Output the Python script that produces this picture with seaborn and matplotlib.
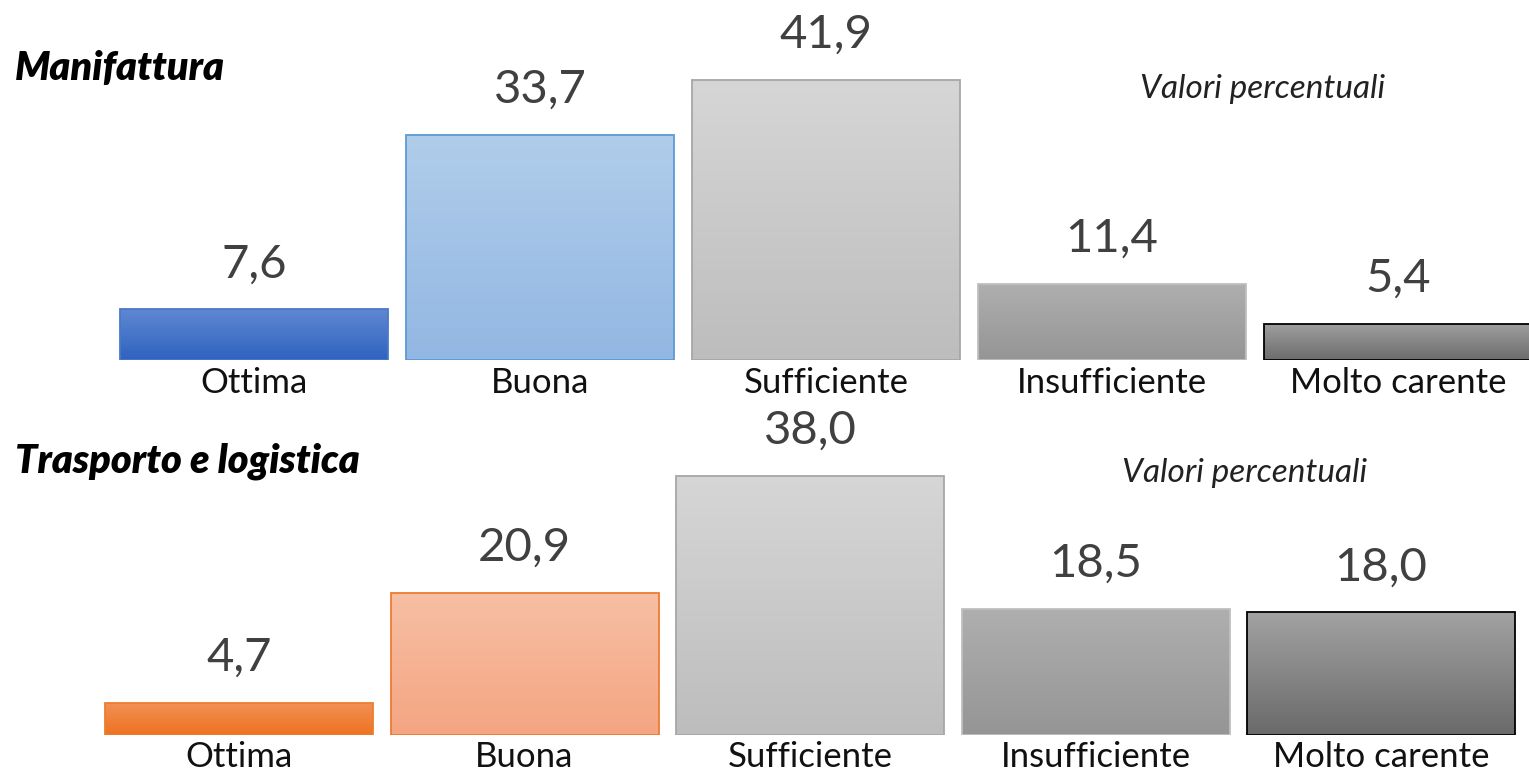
import numpy as np
import matplotlib
matplotlib.use("Agg")
import matplotlib.pyplot as plt
import matplotlib.colors as mcolors
import seaborn as sns
import pandas as pd

categories = ["Ottima", "Buona", "Sufficiente", "Insufficiente", "Molto carente"]
manifattura = [7.6, 33.7, 41.9, 11.4, 5.4]
trasporto = [4.7, 20.9, 38.0, 18.5, 18.0]
titles = ["Manifattura", "Trasporto e logistica"]
note = "Valori percentuali"

# (top colour, bottom colour, edge colour)
top_styles = [("#5f88d2", "#2f62c0", "#4a78c8"),
              ("#b0cdea", "#93b7e3", "#5b9bd5"),
              ("#d6d6d6", "#bdbdbd", "#a6a6a6"),
              ("#afafaf", "#959595", "#bfbfbf"),
              ("#a0a0a0", "#6c6c6c", "#000000")]
bot_styles = [("#f29156", "#ee7220", "#ed7d31"),
              ("#f7bfa4", "#f4a582", "#ed7d31"),
              ("#d6d6d6", "#bdbdbd", "#a6a6a6"),
              ("#afafaf", "#959595", "#bfbfbf"),
              ("#a2a2a2", "#6a6a6a", "#000000")]

sns.set_theme(style="white")
plt.rcParams["font.family"] = ["Lato", "DejaVu Sans"]

W, H = 1529, 773
fig = plt.figure(figsize=(W / 100, H / 100), dpi=100)


def panel(values, styles, base_px, top_px, center0, step, pxunit, title, title_y,
          note_x, note_y, label_pad):
    ax = fig.add_axes([0, (H - base_px) / H, 1, (base_px - top_px) / H])
    df = pd.DataFrame({"cat": categories, "val": values})
    sns.barplot(data=df, x="cat", y="val", ax=ax, width=268 / step,
                color="#cccccc", linewidth=1.3)
    xl = (-center0 / step, (W - center0) / step)
    yl = (0, (base_px - top_px) / pxunit)
    for p, (ct, cb, ce) in zip(ax.patches, styles):
        p.set_edgecolor(ce)
        p.set_facecolor("none")
        p.set_zorder(3)
        x0, y0 = p.get_x(), p.get_y()
        w, h = p.get_width(), p.get_height()
        cmap = mcolors.LinearSegmentedColormap.from_list("g", [cb, ct])
        grad = np.linspace(0, 1, 256).reshape(-1, 1)
        im = ax.imshow(grad, extent=[x0, x0 + w, y0, y0 + h], origin="lower",
                       cmap=cmap, aspect="auto", zorder=2, interpolation="bilinear")
        im.set_clip_path(p)
    for i, v in enumerate(values):
        ax.annotate(f"{v:.1f}".replace(".", ","), (i, v), xytext=(0, 23),
                    textcoords="offset points", ha="center", va="baseline",
                    fontsize=34, color="#404040", fontweight="normal", clip_on=False)
    ax.set_xlim(*xl)
    ax.set_ylim(*yl)
    ax.set_xlabel("")
    ax.set_ylabel("")
    ax.set_yticks([])
    ax.tick_params(axis="x", length=0, pad=label_pad, labelsize=25, labelcolor="#111111")
    for s in ax.spines.values():
        s.set_visible(False)
    ax.set_facecolor("none")
    fig.text(15 / W, 1 - title_y / H, title, fontsize=28.5, fontweight="heavy",
             fontstyle="italic", color="black", va="baseline", ha="left")
    fig.text(note_x / W, 1 - note_y / H, note, fontsize=24, fontstyle="italic",
             color="#222222", va="baseline", ha="left")
    return ax


panel(manifattura, top_styles, base_px=360, top_px=0, center0=254, step=286,
      pxunit=280 / 41.9, title=titles[0], title_y=80, note_x=1140, note_y=98,
      label_pad=5)
panel(trasporto, bot_styles, base_px=735, top_px=400, center0=239, step=285.5,
      pxunit=259 / 38.0, title=titles[1], title_y=472, note_x=1122, note_y=482,
      label_pad=4)

fig.savefig("out.png", dpi=100)
